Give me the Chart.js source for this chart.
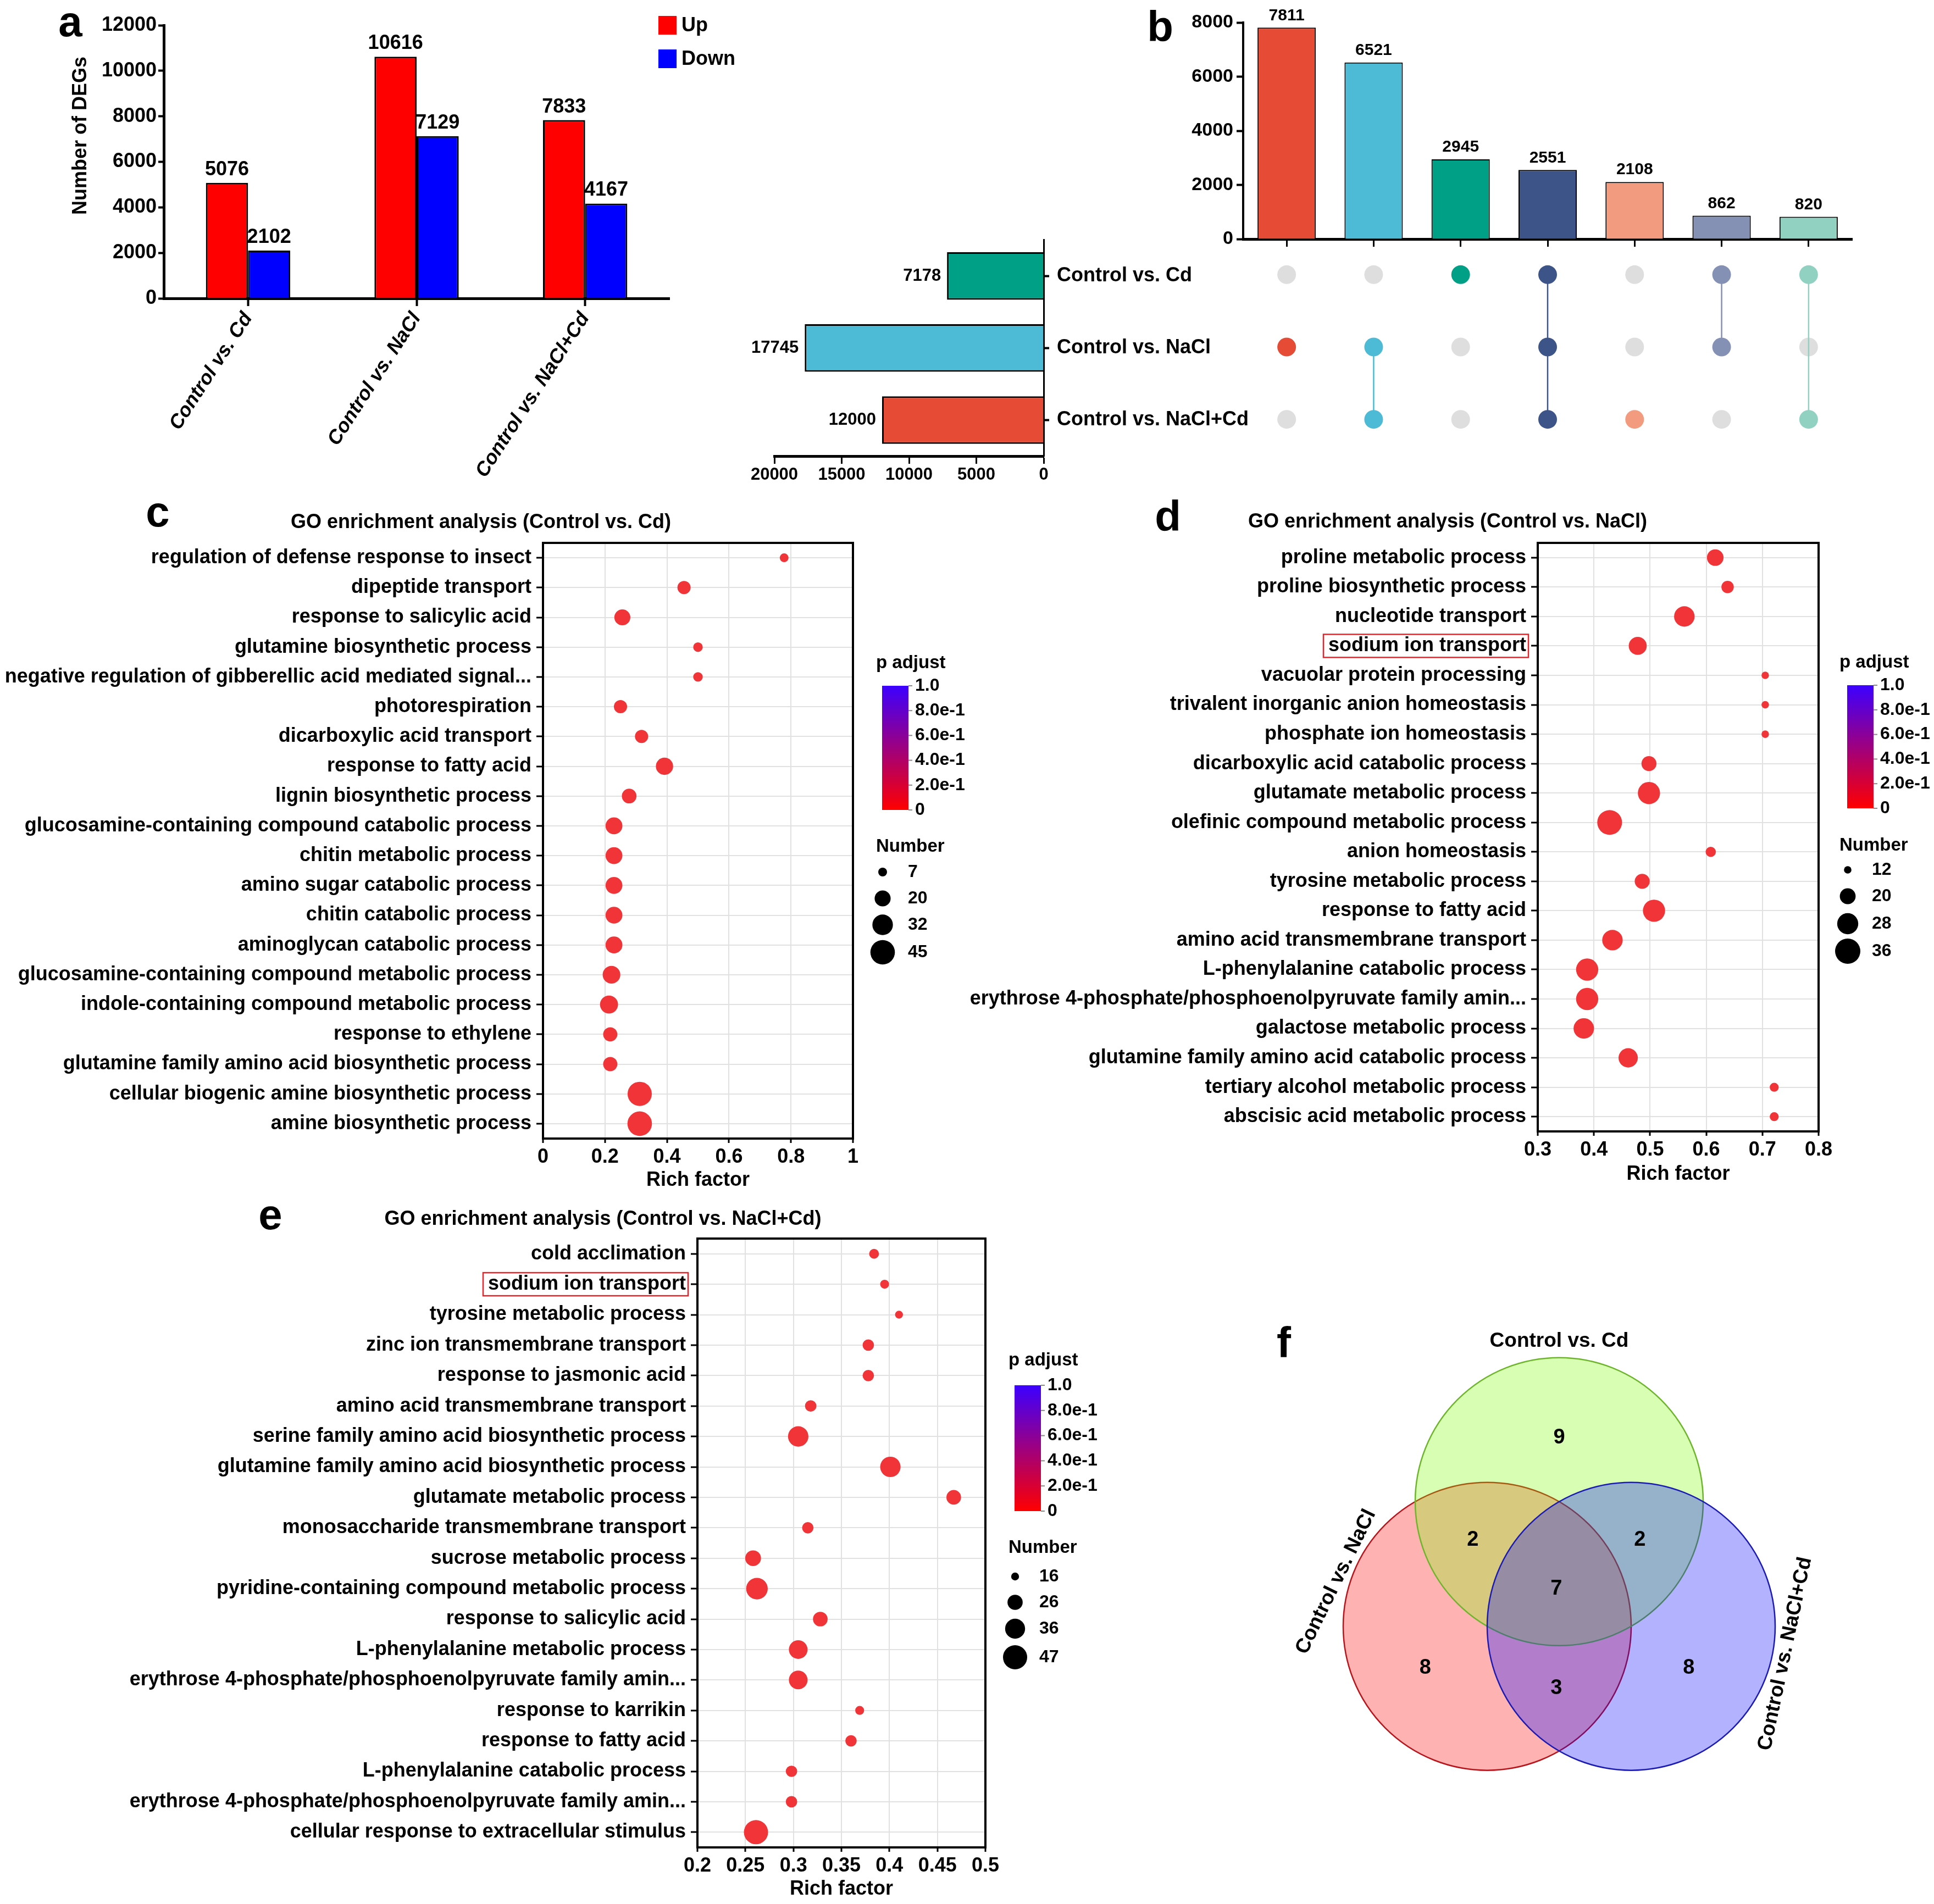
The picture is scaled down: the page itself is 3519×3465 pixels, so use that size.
<!DOCTYPE html>
<html>
<head>
<meta charset="utf-8">
<script src="https://cdn.jsdelivr.net/npm/chart.js@4.4.1/dist/chart.umd.min.js"></script>
<style>
  html, body { margin: 0; padding: 0; background: #fff; }
  body { width: 3519px; height: 3465px; position: relative; overflow: hidden; }
  canvas { position: absolute; }
</style>
</head>
<body>
<script>
// ---- 데이터 ----
// a: DEG 개수
const comparisons = ['Control vs. Cd', 'Control vs. NaCl', 'Control vs. NaCl+Cd'];
const upDEGs = [5076, 10616, 7833];
const downDEGs = [2102, 7129, 4167];

// b: upset
const setNames = ['Control vs. Cd', 'Control vs. NaCl', 'Control vs. NaCl+Cd'];
const setSizes = [7178, 17745, 12000];
const setColors = ['#00a087', '#4dbbd5', '#e64b35'];
const comboSets = [[1], [1, 2], [0], [0, 1, 2], [2], [0, 1], [0, 2]];
const comboSizes = [7811, 6521, 2945, 2551, 2108, 862, 820];
const comboColors = ['#e64b35', '#4dbbd5', '#00a087', '#3c5488', '#f39b7f', '#8491b4', '#91d1c2'];

// c: GO (Control vs. Cd)
const goCdTerms = [
  'regulation of defense response to insect',
  'dipeptide transport',
  'response to salicylic acid',
  'glutamine biosynthetic process',
  'negative regulation of gibberellic acid mediated signal...',
  'photorespiration',
  'dicarboxylic acid transport',
  'response to fatty acid',
  'lignin biosynthetic process',
  'glucosamine-containing compound catabolic process',
  'chitin metabolic process',
  'amino sugar catabolic process',
  'chitin catabolic process',
  'aminoglycan catabolic process',
  'glucosamine-containing compound metabolic process',
  'indole-containing compound metabolic process',
  'response to ethylene',
  'glutamine family amino acid biosynthetic process',
  'cellular biogenic amine biosynthetic process',
  'amine biosynthetic process'
];
const goCdRich = [0.778, 0.455, 0.256, 0.5, 0.5, 0.25, 0.318, 0.392, 0.278, 0.229,
  0.229, 0.229, 0.229, 0.229, 0.221, 0.213, 0.217, 0.217, 0.312, 0.312];
const goCdCount = [7, 14, 20, 8, 8, 14, 14, 23, 17, 22, 22, 22, 22, 22, 24, 25, 16, 16, 44, 45];
const goCdBreaks = [7, 20, 32, 45];

// d: GO (Control vs. NaCl)
const goNaclTerms = [
  'proline metabolic process',
  'proline biosynthetic process',
  'nucleotide transport',
  'sodium ion transport',
  'vacuolar protein processing',
  'trivalent inorganic anion homeostasis',
  'phosphate ion homeostasis',
  'dicarboxylic acid catabolic process',
  'glutamate metabolic process',
  'olefinic compound metabolic process',
  'anion homeostasis',
  'tyrosine metabolic process',
  'response to fatty acid',
  'amino acid transmembrane transport',
  'L-phenylalanine catabolic process',
  'erythrose 4-phosphate/phosphoenolpyruvate family amin...',
  'galactose metabolic process',
  'glutamine family amino acid catabolic process',
  'tertiary alcohol metabolic process',
  'abscisic acid metabolic process'
];
const goNaclRich = [0.616, 0.638, 0.561, 0.478, 0.705, 0.705, 0.705, 0.498, 0.498, 0.428,
  0.608, 0.486, 0.507, 0.433, 0.388, 0.388, 0.382, 0.461, 0.721, 0.721];
const goNaclCount = [21, 16, 27, 23, 12, 12, 12, 19, 30, 35, 14, 19, 30, 27, 30, 30, 27, 25, 13, 13];
const goNaclBreaks = [12, 20, 28, 36];

// e: GO (Control vs. NaCl+Cd)
const goNaclCdTerms = [
  'cold acclimation',
  'sodium ion transport',
  'tyrosine metabolic process',
  'zinc ion transmembrane transport',
  'response to jasmonic acid',
  'amino acid transmembrane transport',
  'serine family amino acid biosynthetic process',
  'glutamine family amino acid biosynthetic process',
  'glutamate metabolic process',
  'monosaccharide transmembrane transport',
  'sucrose metabolic process',
  'pyridine-containing compound metabolic process',
  'response to salicylic acid',
  'L-phenylalanine metabolic process',
  'erythrose 4-phosphate/phosphoenolpyruvate family amin...',
  'response to karrikin',
  'response to fatty acid',
  'L-phenylalanine catabolic process',
  'erythrose 4-phosphate/phosphoenolpyruvate family amin...',
  'cellular response to extracellular stimulus'
];
const goNaclCdRich = [0.384, 0.395, 0.41, 0.378, 0.378, 0.318, 0.305, 0.401, 0.467, 0.315,
  0.258, 0.262, 0.328, 0.305, 0.305, 0.369, 0.36, 0.298, 0.298, 0.261];
const goNaclCdCount = [18, 17, 16, 20, 20, 20, 37, 37, 25, 20, 27, 40, 25, 33, 33, 17, 20, 20, 20, 47];
const goNaclCdBreaks = [16, 26, 36, 47];

// p adjust 색상 범례 눈금
const pTicks = [1, 0.8, 0.6, 0.4, 0.2, 0];
const pTickLabels = ['1.0', '8.0e-1', '6.0e-1', '4.0e-1', '2.0e-1', '0'];

// f: 벤 다이어그램
const vennSets = ['Control vs. Cd', 'Control vs. NaCl', 'Control vs. NaCl+Cd'];
// Cd만, NaCl만, NaCl+Cd만, Cd&NaCl, Cd&NaCl+Cd, NaCl&NaCl+Cd, 전부
const vennCounts = [9, 8, 8, 2, 2, 3, 7];

// ---- 배치 (단위원 좌표) ----
const vennCircles = [[0, 0.5774], [-0.5, -0.2887], [0.5, -0.2887]];
const vennSpots = [[0, 1.02], [-0.93, -0.58], [0.9, -0.58], [-0.6, 0.31], [0.56, 0.31], [-0.02, -0.72], [-0.02, -0.03]];
const vennNameSpots = [[0, 1.69, 0], [-1.55, 0.02, -64], [1.57, -0.48, -78]];

const FONT = "'Liberation Sans', Arial, Helvetica, sans-serif";
const BUBBLE = 'rgb(241, 52, 56)';

Chart.defaults.font.family = FONT;
Chart.defaults.font.weight = 'bold';
Chart.defaults.color = '#000';
Chart.defaults.animation = false;
Chart.defaults.responsive = false;
Chart.defaults.maintainAspectRatio = false;
Chart.defaults.devicePixelRatio = 1;
Chart.defaults.events = [];
Chart.defaults.layout.autoPadding = false;
Chart.defaults.plugins.legend.display = false;
Chart.defaults.plugins.tooltip.enabled = false;

const plain = v => String(v);

function bold(size, style) {
  return { family: FONT, size: size, weight: 'bold', style: style || 'normal' };
}

function addCanvas(left, top, w, h) {
  const c = document.createElement('canvas');
  c.width = w; c.height = h;
  c.style.left = left + 'px'; c.style.top = top + 'px';
  c.style.width = w + 'px'; c.style.height = h + 'px';
  document.body.appendChild(c);
  return c;
}

// 페이지 좌표로 글자 찍기
function notes(items) {
  return {
    id: 'notes',
    afterDraw(chart) {
      const ctx = chart.ctx;
      const ox = chart.canvas.offsetLeft, oy = chart.canvas.offsetTop;
      items.forEach(it => {
        ctx.save();
        ctx.translate(it.x - ox, it.y - oy);
        if (it.rot) ctx.rotate(it.rot * Math.PI / 180);
        ctx.font = `${it.style || 'normal'} bold ${it.size}px ${FONT}`;
        ctx.fillStyle = '#000';
        ctx.textAlign = it.align || 'center';
        ctx.textBaseline = it.base || 'middle';
        ctx.fillText(it.text, 0, 0);
        ctx.restore();
      });
    }
  };
}

function barValues(opt) {
  return {
    id: 'barValues',
    afterDatasetsDraw(chart) {
      const ctx = chart.ctx;
      ctx.save();
      ctx.font = `bold ${opt.size}px ${FONT}`;
      ctx.fillStyle = '#000';
      ctx.textBaseline = 'middle';
      chart.data.datasets.forEach((ds, di) => {
        chart.getDatasetMeta(di).data.forEach((bar, i) => {
          if (opt.horizontal) {
            ctx.textAlign = 'right';
            ctx.fillText(ds.data[i], bar.x - opt.gap, bar.y);
          } else {
            ctx.textAlign = 'center';
            ctx.fillText(ds.data[i], bar.x, bar.y - opt.gap);
          }
        });
      });
      ctx.restore();
    }
  };
}

// ---- a ----
new Chart(addCanvas(0, 0, 1350, 900), {
  type: 'bar',
  data: {
    labels: comparisons,
    datasets: [
      { label: 'Up', data: upDEGs, backgroundColor: '#ff0000', borderColor: '#000', borderWidth: 3 },
      { label: 'Down', data: downDEGs, backgroundColor: '#0000ff', borderColor: '#000', borderWidth: 3 }
    ]
  },
  options: {
    datasets: { bar: { categoryPercentage: 0.5, barPercentage: 1 } },
    layout: { padding: { left: 0, top: 46, right: 132, bottom: 0 } },
    scales: {
      x: {
        ticks: { font: bold(36, 'italic'), minRotation: 57, maxRotation: 57, padding: 4, autoSkip: false },
        grid: { drawOnChartArea: false, offset: false, tickLength: 14, tickColor: '#000', tickWidth: 4 },
        border: { color: '#000', width: 5 },
        afterFit: ax => { ax.height = 357; }
      },
      y: {
        min: 0, max: 12000,
        ticks: { stepSize: 2000, font: bold(36), padding: 3, callback: plain },
        grid: { drawOnChartArea: false, tickLength: 10, tickColor: '#000', tickWidth: 4 },
        border: { color: '#000', width: 5 },
        afterFit: ax => { ax.width = 298; }
      }
    }
  },
  plugins: [
    barValues({ size: 36, gap: 24 }),
    {
      id: 'legendA',
      afterDraw(chart) {
        const ctx = chart.ctx;
        ctx.save();
        ctx.font = `bold 36px ${FONT}`;
        ctx.textAlign = 'left';
        ctx.textBaseline = 'middle';
        chart.data.datasets.forEach((ds, i) => {
          const y = 29 + i * 61;
          ctx.fillStyle = ds.backgroundColor;
          ctx.fillRect(1198, y, 33, 34);
          ctx.fillStyle = '#000';
          ctx.fillText(ds.label, 1240, y + 18);
        });
        ctx.restore();
      }
    },
    notes([
      { text: 'a', x: 128, y: 66, size: 78, base: 'alphabetic' },
      { text: 'Number of DEGs', x: 147, y: 247, size: 36, rot: -90 }
    ])
  ]
});

// ---- b: 위 교집합 막대 ----
new Chart(addCanvas(2050, 0, 1340, 480), {
  type: 'bar',
  data: {
    labels: comboSets.map(s => s.map(k => setNames[k]).join(' & ')),
    datasets: [{
      data: comboSizes, backgroundColor: comboColors, borderColor: '#000', borderWidth: 2,
      barPercentage: 0.67, categoryPercentage: 1
    }]
  },
  options: {
    layout: { padding: { left: 0, top: 41, right: 20, bottom: 0 } },
    scales: {
      x: {
        ticks: { display: false },
        grid: { drawOnChartArea: false, offset: false, tickLength: 14, tickColor: '#000', tickWidth: 3 },
        border: { color: '#000', width: 5 },
        afterFit: ax => { ax.height = 45; }
      },
      y: {
        min: 0, max: 8000,
        ticks: { stepSize: 2000, font: bold(34), padding: 6, callback: plain },
        grid: { drawOnChartArea: false, tickLength: 12, tickColor: '#000', tickWidth: 4 },
        border: { color: '#000', width: 4 },
        afterFit: ax => { ax.width = 212; }
      }
    }
  },
  plugins: [
    barValues({ size: 30, gap: 22 }),
    notes([{ text: 'b', x: 2111, y: 75, size: 78, base: 'alphabetic' }])
  ]
});

// ---- b: 왼쪽 세트 크기 ----
new Chart(addCanvas(1350, 401, 950, 499), {
  type: 'bar',
  data: {
    labels: setNames,
    datasets: [{
      data: setSizes, backgroundColor: setColors, borderColor: '#000', borderWidth: 3,
      barPercentage: 0.66, categoryPercentage: 1
    }]
  },
  options: {
    indexAxis: 'y',
    layout: { padding: { left: 59, top: 0, right: 0, bottom: 0 } },
    scales: {
      x: {
        reverse: true, min: 0, max: 20000,
        ticks: { stepSize: 5000, font: bold(31), padding: 2, callback: plain },
        grid: { drawOnChartArea: false, tickLength: 14, tickColor: '#000', tickWidth: 3 },
        border: { color: '#000', width: 5 },
        afterFit: ax => { ax.height = 70; }
      },
      y: {
        position: 'right',
        ticks: { font: bold(36), padding: 14 },
        grid: { drawOnChartArea: false, offset: false, tickLength: 10, tickColor: '#000', tickWidth: 4 },
        border: { color: '#000', width: 3 },
        afterFit: ax => { ax.width = 401; }
      }
    }
  },
  plugins: [barValues({ size: 31, gap: 11, horizontal: true })]
});

// ---- b: 매트릭스 점 ----
const grayPts = [], dotPts = [], dotCols = [], links = [];
comboSets.forEach((sets, col) => {
  setNames.forEach((_, row) => {
    if (sets.includes(row)) { dotPts.push({ x: col, y: row }); dotCols.push(comboColors[col]); }
    else grayPts.push({ x: col, y: row });
  });
  if (sets.length > 1) {
    links.push({
      data: [{ x: col, y: Math.min(...sets) }, { x: col, y: Math.max(...sets) }],
      showLine: true, borderColor: comboColors[col], borderWidth: 2.5, pointRadius: 0, order: 2
    });
  }
});
new Chart(addCanvas(2262, 434, 1108, 395), {
  type: 'scatter',
  data: {
    datasets: [
      { data: grayPts, pointRadius: 17, pointBackgroundColor: '#dedede', pointBorderWidth: 0, order: 3 },
      ...links,
      { data: dotPts, pointRadius: 17, pointBackgroundColor: dotCols, pointBorderWidth: 0, order: 1 }
    ]
  },
  options: {
    layout: { padding: 0 },
    scales: {
      x: { type: 'linear', min: -0.5, max: comboSets.length - 0.5, display: false },
      y: { type: 'linear', min: -0.5, max: setNames.length - 0.5, reverse: true, display: false }
    }
  }
});

// ---- c, d, e: GO 버블 ----
function goChart(o) {
  const [bl, bt, bw, bh] = o.box;
  const size = n => Math.sqrt(Math.max(0, o.r0 * o.r0 + (o.r1 * o.r1 - o.r0 * o.r0) *
    (n - o.breaks[0]) / (o.breaks[o.breaks.length - 1] - o.breaks[0])));
  const nx = Math.round((o.xmax - o.xmin) / o.step);
  const xt = [];
  for (let i = 0; i <= nx; i++) xt.push(+(o.xmin + i * o.step).toFixed(2));

  const legend = {
    id: 'goLegend',
    afterDraw(chart) {
      const ctx = chart.ctx, L = o.legend;
      const barW = 48, tickX = L.barX + barW + 12;
      ctx.save();
      ctx.translate(-chart.canvas.offsetLeft, -chart.canvas.offsetTop);
      ctx.fillStyle = '#000';
      ctx.textAlign = 'left';
      ctx.textBaseline = 'middle';
      ctx.font = `bold 33px ${FONT}`;
      ctx.fillText('p adjust', L.px, L.pTitleY);
      const g = ctx.createLinearGradient(0, L.barBot, 0, L.barTop);
      g.addColorStop(0, '#ff0000');
      g.addColorStop(1, '#3c00ff');
      ctx.fillStyle = g;
      ctx.fillRect(L.barX, L.barTop, barW, L.barBot - L.barTop);
      ctx.strokeStyle = '#8a8a8a';
      ctx.lineWidth = 2;
      ctx.font = `bold 32px ${FONT}`;
      pTicks.forEach((p, i) => {
        const y = L.barBot - p * (L.barBot - L.barTop);
        ctx.beginPath();
        ctx.moveTo(L.barX + barW, y);
        ctx.lineTo(L.barX + barW + 7, y);
        ctx.stroke();
        ctx.fillStyle = '#000';
        ctx.fillText(pTickLabels[i], tickX, y);
      });
      ctx.font = `bold 33px ${FONT}`;
      ctx.fillText('Number', L.px, L.numTitleY);
      ctx.font = `bold 32px ${FONT}`;
      o.breaks.forEach((n, i) => {
        ctx.beginPath();
        ctx.arc(L.dotX, L.dotYs[i], size(n), 0, Math.PI * 2);
        ctx.fill();
        ctx.fillText(String(n), L.dotLabelX, L.dotYs[i]);
      });
      ctx.restore();
    }
  };

  const frame = {
    id: 'frame',
    afterDraw(chart) {
      const { ctx, chartArea: a } = chart;
      ctx.save();
      ctx.strokeStyle = '#000';
      ctx.lineWidth = 4;
      ctx.strokeRect(a.left, a.top, a.right - a.left, a.bottom - a.top);
      if (o.boxRow != null) {
        const y = chart.scales.y.getPixelForValue(o.boxRow);
        ctx.font = `bold 36px ${FONT}`;
        const w = ctx.measureText(o.terms[o.boxRow]).width;
        const right = a.left - 12 - 9;
        ctx.strokeStyle = '#e3262c';
        ctx.lineWidth = 2.5;
        ctx.strokeRect(right - w - 9, y - 21, w + 13, 42);
      }
      ctx.restore();
    }
  };

  return new Chart(addCanvas(bl, bt, bw, bh), {
    type: 'bubble',
    data: {
      datasets: [{
        data: o.terms.map((t, i) => ({ x: o.rich[i], y: i, r: size(o.counts[i]) })),
        backgroundColor: BUBBLE, borderWidth: 0
      }]
    },
    options: {
      layout: { padding: { left: 0, top: o.area.t - bt, right: bl + bw - o.area.r, bottom: 0 } },
      scales: {
        x: {
          type: 'linear', min: o.xmin, max: o.xmax,
          afterBuildTicks: ax => { ax.ticks = xt.map(v => ({ value: v })); },
          ticks: { font: bold(36), padding: 4, maxRotation: 0, autoSkip: false, callback: v => String(+(+v).toFixed(2)) },
          grid: { color: '#e1e1e1', lineWidth: 2, tickColor: '#000', tickWidth: 3, tickLength: 8 },
          border: { color: '#000', width: 4 },
          title: { display: true, text: 'Rich factor', font: bold(36), padding: { top: 0, bottom: o.titlePad } },
          afterFit: ax => { ax.height = bt + bh - o.area.b; }
        },
        y: {
          type: 'linear', min: -0.5, max: o.terms.length - 0.5, reverse: true,
          afterBuildTicks: ax => { ax.ticks = o.terms.map((_, i) => ({ value: i })); },
          ticks: { font: bold(36), padding: 9, autoSkip: false, callback: v => o.terms[v] },
          grid: { color: '#e1e1e1', lineWidth: 2, tickColor: '#000', tickWidth: 3, tickLength: 12 },
          border: { color: '#000', width: 4 },
          afterFit: ax => { ax.width = o.area.l - bl; }
        }
      }
    },
    plugins: [frame, legend, notes([
      { text: o.letter, x: o.letterAt[0], y: o.letterAt[1], size: 78, base: 'alphabetic' },
      { text: o.title, x: o.titleAt[0], y: o.titleAt[1], size: 36 }
    ])]
  });
}

goChart({
  box: [0, 900, 1780, 1290], area: { l: 988, r: 1552, t: 988, b: 2072 },
  terms: goCdTerms, rich: goCdRich, counts: goCdCount, breaks: goCdBreaks, r0: 8, r1: 22.3,
  xmin: 0, xmax: 1, step: 0.2, titlePad: 20, boxRow: null,
  letter: 'c', letterAt: [287, 958], title: 'GO enrichment analysis (Control vs. Cd)', titleAt: [875, 951],
  legend: { px: 1594, pTitleY: 1207, barX: 1605, barTop: 1248, barBot: 1474,
    numTitleY: 1541, dotX: 1606, dotYs: [1587, 1635, 1683, 1733], dotLabelX: 1652 }
});

goChart({
  box: [1750, 900, 1769, 1290], area: { l: 2798, r: 3309, t: 988, b: 2059 },
  terms: goNaclTerms, rich: goNaclRich, counts: goNaclCount, breaks: goNaclBreaks, r0: 6.8, r1: 23,
  xmin: 0.3, xmax: 0.8, step: 0.1, titlePad: 31, boxRow: 3,
  letter: 'd', letterAt: [2125, 966], title: 'GO enrichment analysis (Control vs. NaCl)', titleAt: [2634, 950],
  legend: { px: 3347, pTitleY: 1206, barX: 3361, barTop: 1247, barBot: 1471,
    numTitleY: 1539, dotX: 3362, dotYs: [1583, 1631, 1681, 1731], dotLabelX: 3406 }
});

goChart({
  box: [0, 2160, 2050, 1305], area: { l: 1269, r: 1793, t: 2254, b: 3362 },
  terms: goNaclCdTerms, rich: goNaclCdRich, counts: goNaclCdCount, breaks: goNaclCdBreaks, r0: 7.2, r1: 22,
  xmin: 0.2, xmax: 0.5, step: 0.05, titlePad: 5, boxRow: 1,
  letter: 'e', letterAt: [492, 2237], title: 'GO enrichment analysis (Control vs. NaCl+Cd)', titleAt: [1097, 2219],
  legend: { px: 1835, pTitleY: 2476, barX: 1846, barTop: 2521, barBot: 2750,
    numTitleY: 2817, dotX: 1847, dotYs: [2869, 2916, 2964, 3016], dotLabelX: 1891 }
});

// ---- f: 벤 ----
const vennFill = ['rgba(124,252,0,0.3)', 'rgba(255,0,0,0.3)', 'rgba(0,0,255,0.3)'];
const vennLine = ['#6db52b', '#b8141c', '#1b1bb4'];
const vennOrder = [2, 3, 1]; // 빨강 먼저, 초록, 파랑이 맨 위
const unitPx = ctx => {
  const s = ctx.chart.scales.x;
  const r = Math.abs(s.getPixelForValue(1) - s.getPixelForValue(0));
  return isFinite(r) ? r : 0;
};
new Chart(addCanvas(2250, 2380, 1269, 1085), {
  type: 'scatter',
  data: {
    datasets: vennSets.map((name, i) => ({
      label: name,
      data: [{ x: vennCircles[i][0], y: vennCircles[i][1] }],
      pointRadius: unitPx,
      pointBackgroundColor: vennFill[i],
      pointBorderColor: vennLine[i],
      pointBorderWidth: 2.5,
      order: vennOrder[i],
      clip: false
    }))
  },
  options: {
    layout: { padding: 0 },
    scales: {
      x: { type: 'linear', min: -2.2405, max: 2.6031, display: false },
      y: { type: 'linear', min: -2.2176, max: 1.9237, display: false }
    }
  },
  plugins: [
    {
      id: 'vennText',
      afterDraw(chart) {
        const { ctx, scales: { x, y } } = chart;
        ctx.save();
        ctx.fillStyle = '#000';
        ctx.textAlign = 'center';
        ctx.textBaseline = 'middle';
        ctx.font = `bold 38px ${FONT}`;
        vennCounts.forEach((n, i) => {
          ctx.fillText(String(n), x.getPixelForValue(vennSpots[i][0]), y.getPixelForValue(vennSpots[i][1]));
        });
        ctx.font = `bold 37px ${FONT}`;
        vennSets.forEach((name, i) => {
          const p = vennNameSpots[i];
          ctx.save();
          ctx.translate(x.getPixelForValue(p[0]), y.getPixelForValue(p[1]));
          ctx.rotate(p[2] * Math.PI / 180);
          ctx.fillText(name, 0, 0);
          ctx.restore();
        });
        ctx.restore();
      }
    },
    notes([{ text: 'f', x: 2336, y: 2470, size: 78, base: 'alphabetic' }])
  ]
});
</script>
</body>
</html>
